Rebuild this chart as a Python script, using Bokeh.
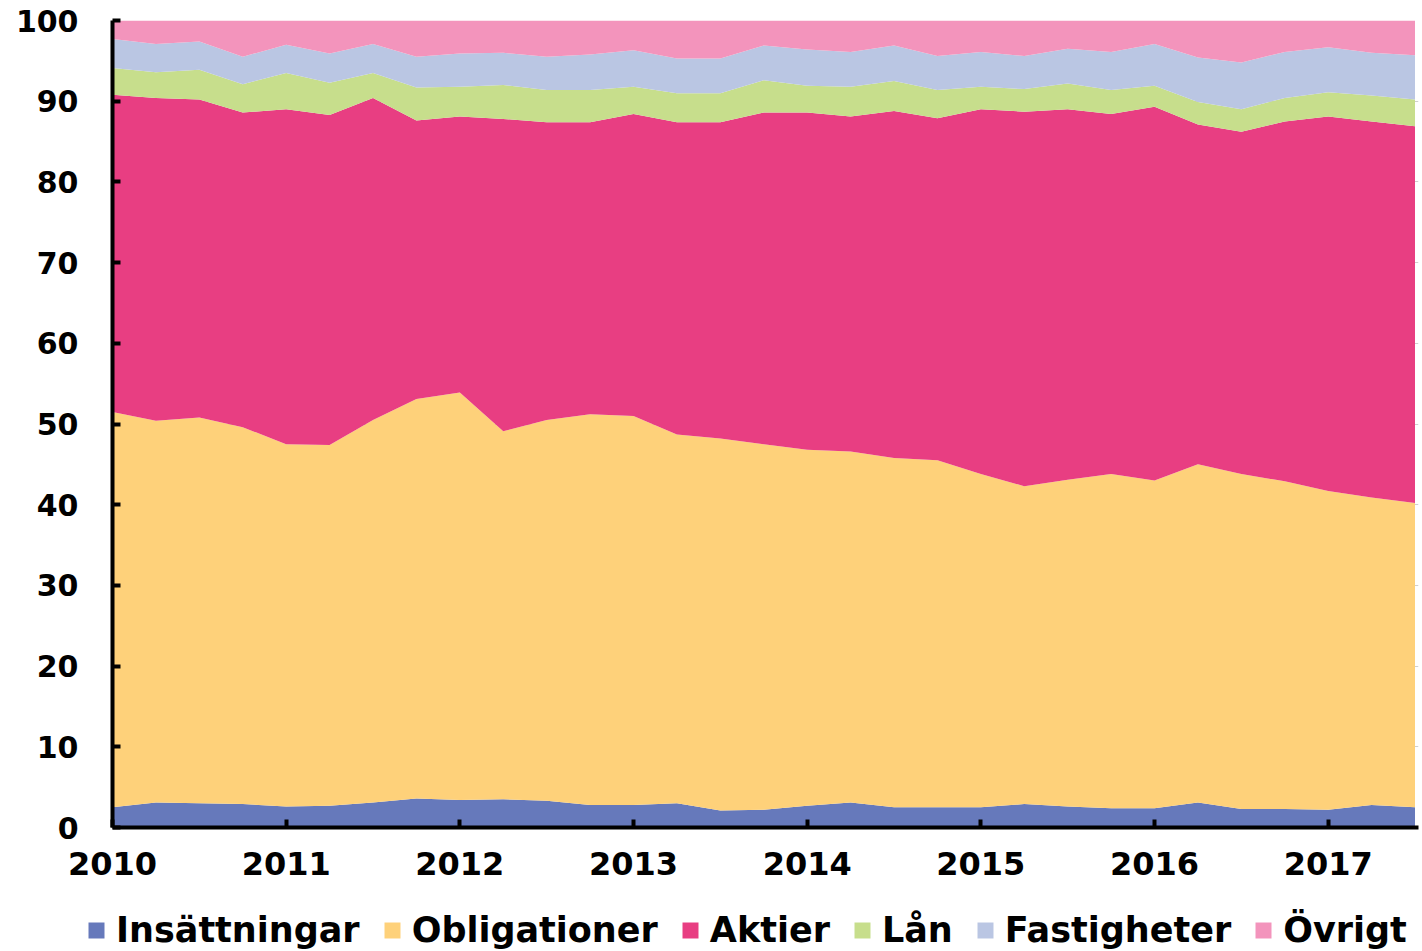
from bokeh.plotting import figure
from bokeh.layouts import column
from bokeh.models import ColumnDataSource, Legend, FixedTicker, Range1d
from bokeh.embed import file_html
from bokeh.resources import INLINE

quarters = [2010 + 0.25 * i for i in range(31)]
year_ticks = [2010, 2011, 2012, 2013, 2014, 2015, 2016, 2017]
y_ticks = [0, 10, 20, 30, 40, 50, 60, 70, 80, 90, 100]

insattningar = [2.5, 3.1, 3.0, 2.9, 2.6, 2.7, 3.1, 3.6, 3.4, 3.5, 3.3, 2.8, 2.8, 3.0, 2.1, 2.2,
                2.7, 3.1, 2.5, 2.5, 2.5, 2.9, 2.6, 2.4, 2.4, 3.1, 2.3, 2.3, 2.2, 2.8, 2.5]
obligationer = [49.0, 47.3, 47.8, 46.7, 44.9, 44.7, 47.4, 49.5, 50.5, 45.6, 47.2, 48.4, 48.2, 45.7, 46.1, 45.3,
                44.1, 43.5, 43.3, 43.0, 41.3, 39.4, 40.5, 41.4, 40.6, 41.9, 41.5, 40.6, 39.5, 38.1, 37.7]
aktier = [39.3, 40.0, 39.4, 39.0, 41.5, 40.9, 39.9, 34.5, 34.2, 38.7, 36.9, 36.2, 37.4, 38.7, 39.2, 41.1,
          41.8, 41.5, 43.0, 42.4, 45.2, 46.4, 45.9, 44.6, 46.3, 42.1, 42.4, 44.6, 46.4, 46.6, 46.7]
lan = [3.3, 3.2, 3.7, 3.5, 4.5, 4.0, 3.1, 4.1, 3.7, 4.2, 4.0, 4.0, 3.4, 3.6, 3.6, 4.0,
       3.3, 3.7, 3.7, 3.5, 2.8, 2.8, 3.2, 3.0, 2.6, 2.8, 2.8, 2.9, 3.0, 3.2, 3.3]
fastigheter = [3.6, 3.5, 3.5, 3.4, 3.5, 3.6, 3.6, 3.8, 4.1, 4.0, 4.1, 4.4, 4.5, 4.3, 4.3, 4.3,
               4.5, 4.3, 4.4, 4.2, 4.3, 4.1, 4.3, 4.7, 5.2, 5.5, 5.8, 5.7, 5.6, 5.3, 5.5]
ovrigt = [2.3, 2.9, 2.6, 4.5, 3.0, 4.1, 2.9, 4.5, 4.1, 4.0, 4.5, 4.2, 3.7, 4.7, 4.7, 3.1,
          3.6, 3.9, 3.1, 4.4, 3.9, 4.4, 3.5, 3.9, 2.9, 4.6, 5.2, 3.9, 3.3, 4.0, 4.3]

names = ["Insättningar", "Obligationer", "Aktier", "Lån", "Fastigheter", "Övrigt"]
colors = ["#6679BB", "#FED17A", "#E83E82", "#C7DE8C", "#BAC6E3", "#F394BC"]

source = ColumnDataSource(dict(x=quarters, **{
    "Insättningar": insattningar,
    "Obligationer": obligationer,
    "Aktier": aktier,
    "Lån": lan,
    "Fastigheter": fastigheter,
    "Övrigt": ovrigt,
}))

FONT = "DejaVu Sans"

# main chart
p = figure(width=1420, height=892, output_backend="svg", toolbar_location=None,
           x_range=Range1d(2010, 2017.52), y_range=Range1d(0, 100),
           min_border_left=112, min_border_right=2, min_border_top=20, min_border_bottom=65)
p.outline_line_color = None
p.background_fill_color = "white"

p.varea_stack(stackers=names, x="x", color=colors, source=source)

p.xgrid.grid_line_color = None
p.ygrid.grid_line_color = "#cfcfcf"
p.ygrid.ticker = FixedTicker(ticks=y_ticks)

for ax in (p.xaxis, p.yaxis):
    ax.axis_line_width = 4
    ax.axis_line_color = "black"
    ax.major_tick_line_width = 4
    ax.major_tick_line_color = "black"
    ax.major_tick_in = 8
    ax.major_tick_out = 0
    ax.minor_tick_line_color = None
    ax.major_label_text_font = FONT
    ax.major_label_text_font_style = "bold"
    ax.major_label_text_color = "black"

p.yaxis.ticker = FixedTicker(ticks=y_ticks)
p.yaxis.major_label_text_font_size = "30px"
p.yaxis.major_label_standoff = 34
p.xaxis.ticker = FixedTicker(ticks=year_ticks)
p.xaxis.major_label_text_font_size = "32px"
p.xaxis.major_label_standoff = 24

# legend strip (same stacked data, plotted out of view so only the legend shows)
lg = figure(width=1420, height=58, output_backend="svg", toolbar_location=None,
            x_range=Range1d(0, 1), y_range=Range1d(0, 1),
            x_axis_type=None, y_axis_type=None,
            min_border_left=0, min_border_right=0, min_border_top=0, min_border_bottom=0)
lg.outline_line_color = None
lg.xgrid.visible = False
lg.ygrid.visible = False
lg_renderers = lg.varea_stack(stackers=names, x="x", color=colors, source=source)

for fig in (p, lg):
    try:
        fig.frame_align = False
    except Exception:
        pass

legend = Legend(items=[(n, [r]) for n, r in zip(names, lg_renderers)],
                orientation="horizontal", location=(86, 0))
legend.label_text_font = FONT
legend.label_text_font_style = "bold"
legend.label_text_font_size = "35px"
legend.label_text_color = "black"
legend.glyph_width = 20
legend.glyph_height = 20
legend.label_standoff = 10
legend.spacing = 22
legend.padding = 0
legend.margin = 0
legend.border_line_color = None
legend.background_fill_alpha = 0
lg.add_layout(legend, "center")

open("out.html", "w").write(file_html(column(p, lg, spacing=0), INLINE))
